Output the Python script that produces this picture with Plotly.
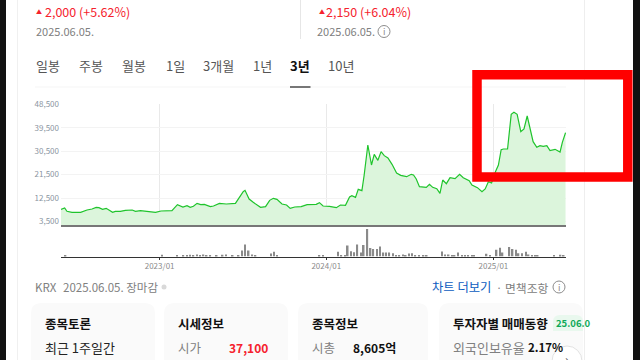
import plotly.graph_objects as go

price_dates = ["2022-05-30","2022-06-07","2022-06-12","2022-06-23","2022-07-12","2022-07-26","2022-08-06","2022-08-15","2022-08-21","2022-08-29","2022-09-06","2022-09-20","2022-09-26","2022-10-07","2022-10-18","2022-11-02","2022-11-09","2022-11-20","2022-12-04","2022-12-23","2023-01-04","2023-01-28","2023-02-09","2023-02-21","2023-03-02","2023-03-09","2023-03-16","2023-03-24","2023-04-01","2023-04-09","2023-04-22","2023-04-29","2023-05-12","2023-05-27","2023-06-16","2023-06-26","2023-07-03","2023-07-07","2023-07-16","2023-07-25","2023-08-10","2023-08-21","2023-08-30","2023-09-07","2023-09-15","2023-09-26","2023-10-06","2023-10-14","2023-10-24","2023-11-07","2023-11-20","2023-12-10","2023-12-17","2023-12-25","2024-01-08","2024-01-23","2024-02-01","2024-02-12","2024-02-21","2024-02-26","2024-03-05","2024-03-11","2024-03-19","2024-03-24","2024-04-01","2024-04-09","2024-04-15","2024-04-23","2024-04-30","2024-05-07","2024-05-15","2024-05-24","2024-06-03","2024-06-12","2024-06-25","2024-07-05","2024-07-10","2024-07-16","2024-07-23","2024-08-07","2024-08-14","2024-08-21","2024-08-30","2024-09-06","2024-09-12","2024-09-20","2024-09-28","2024-10-09","2024-10-19","2024-10-27","2024-11-09","2024-11-15","2024-11-27","2024-12-07","2024-12-14","2024-12-21","2024-12-28","2025-01-05","2025-01-12","2025-01-18","2025-01-23","2025-02-01","2025-02-09","2025-02-15","2025-02-22","2025-03-02","2025-03-09","2025-03-16","2025-03-24","2025-03-29","2025-04-06","2025-04-13","2025-04-20","2025-04-28","2025-05-05","2025-05-16","2025-05-27","2025-06-01","2025-06-08"]
price_values = [8141,8654,7372,6988,6988,7885,8270,8911,8783,8141,8526,6988,7372,7372,7757,7885,7372,7628,7372,6988,7500,7628,9936,9039,9552,8911,9295,10449,9936,10064,9167,9424,10449,10193,10449,13398,14936,15449,12115,10833,8910,9167,11603,12372,11988,10193,9808,8526,9039,9167,9936,10064,10705,9424,9295,8783,9808,9680,12885,13398,12757,15834,15321,21346,32884,25192,29294,26987,30320,28782,27884,25448,22115,21218,20705,21602,21346,19808,16859,16602,17755,16602,16089,14294,19422,18012,20320,19935,21601,20320,19166,17500,16474,14935,15960,18781,18268,22371,25191,31088,31345,31345,44677,45447,44677,38011,39037,44036,38011,34165,31986,32627,32370,32627,30703,31216,30190,33909,37627]

volume_dates = ["2022-06-09","2023-01-06","2023-02-08","2023-02-22","2023-03-02","2023-03-09","2023-03-16","2023-03-24","2023-03-31","2023-04-07","2023-04-14","2023-04-22","2023-05-06","2023-05-19","2023-05-26","2023-06-10","2023-06-23","2023-07-01","2023-07-07","2023-07-15","2023-07-23","2023-07-30","2023-09-02","2023-09-09","2023-09-15","2023-12-17","2023-12-25","2024-01-27","2024-02-03","2024-02-11","2024-02-17","2024-02-24","2024-03-02","2024-03-09","2024-03-17","2024-03-23","2024-03-31","2024-04-07","2024-04-13","2024-04-21","2024-04-28","2024-05-05","2024-05-11","2024-05-18","2024-05-26","2024-06-02","2024-06-09","2024-06-17","2024-06-23","2024-06-30","2024-07-07","2024-07-14","2024-07-22","2024-08-01","2024-08-08","2024-09-10","2024-09-17","2024-09-25","2024-10-02","2024-10-08","2024-10-16","2024-10-24","2024-10-31","2024-11-07","2024-11-15","2024-11-20","2024-12-17","2024-12-25","2025-01-08","2025-01-16","2025-01-21","2025-02-05","2025-02-12","2025-02-19","2025-02-25","2025-03-05","2025-03-13","2025-03-19","2025-03-27","2025-04-02","2025-04-08","2025-05-14","2025-05-28","2025-06-04"]
volume_values = [3,5,3,4,3,5,4,6,4,6,3,3,3,5,6,3,3,18,36,18,6,3,9,14,3,3,3,14,4,4,33,16,13,36,12,34,82,25,22,22,30,12,12,12,10,4,4,6,4,9,10,4,4,3,3,15,6,6,4,4,12,4,4,4,4,4,8,4,20,26,12,28,22,20,10,10,14,6,4,4,4,3,5,3]

y_ticks = [3500, 12500, 21500, 30500, 39500, 48500]
x_ticks = ["2023-01-01", "2024-01-01", "2025-01-01"]
x_tick_labels = ["2023/01", "2024/01", "2025/01"]

W, H = 640, 360
FONT = "Noto Sans CJK KR"
RED = "#f5222d"
GRAY = "#808080"

def px(x): return x / W
def py(y): return 1 - y / H

fig = go.Figure()
fig.add_trace(go.Scatter(x=price_dates, y=price_values, mode="lines", fill="tozeroy",
                         line=dict(color="#1fc42c", width=1.2), fillcolor="#dcf5dc",
                         hoverinfo="skip", xaxis="x", yaxis="y"))
fig.add_trace(go.Bar(x=volume_dates, y=volume_values, marker=dict(color="#8a8a8a", line_width=0),
                     width=2.9e8, hoverinfo="skip", xaxis="x2", yaxis="y2"))

date_range = ["2022-05-30", "2025-06-09"]
fig.update_layout(
    width=W, height=H, autosize=False, showlegend=False,
    margin=dict(l=0, r=0, t=0, b=0, autoexpand=False), paper_bgcolor="white", plot_bgcolor="rgba(0,0,0,0)",
    font=dict(family=FONT, color=GRAY),
    xaxis=dict(domain=[px(61), px(566)], range=date_range, type="date", anchor="y", automargin=False,
               tickvals=x_ticks, showticklabels=False, ticks="", showgrid=True,
               gridcolor="#e9e9e9", gridwidth=1, zeroline=False,
               showline=True, linecolor="#777777", linewidth=2),
    yaxis=dict(domain=[py(225), py(103.5)], range=[2115, 48844], tickvals=y_ticks, automargin=False,
               tickformat=",d", tickfont=dict(size=8, color="#8b95a1"), ticks="",
               ticklabelstandoff=1, showgrid=True, gridcolor="#f3f3f3", gridwidth=1,
               zeroline=False, showline=False),
    xaxis2=dict(domain=[px(61), px(566)], range=date_range, type="date", anchor="y2", automargin=False,
                tickvals=x_ticks, ticktext=x_tick_labels, tickfont=dict(size=8, color="#8b8b8b"),
                ticks="outside", ticklen=2, tickcolor="#333333", showgrid=False, zeroline=False,
                showline=True, linecolor="#333333", linewidth=1),
    yaxis2=dict(domain=[py(256.5), py(229)], range=[0, 82], showticklabels=False, automargin=False,
                ticks="", showgrid=False, zeroline=False, showline=False),
)

def label(x, y, text, size=12, color=GRAY, bold=False, anchor="left"):
    fig.add_annotation(xref="paper", yref="paper", x=px(x), y=py(y), text=f"<b>{text}</b>" if bold else text,
                       showarrow=False, xanchor=anchor, yanchor="middle",
                       font=dict(family=FONT, size=size, color=color), borderpad=0, borderwidth=0)

def rect(x0, y0, x1, y1, fill, layer="below"):
    fig.add_shape(type="rect", xref="paper", yref="paper", x0=px(x0), x1=px(x1), y0=py(y0), y1=py(y1),
                  fillcolor=fill, line_width=0, layer=layer)

def round_card(x0, y0, x1, y1, r, fill):
    X0, X1, Y0, Y1, RX, RY = px(x0), px(x1), py(y0), py(y1), r / W, r / H
    path = (f"M {X0} {Y1} L {X0} {Y0 - RY} Q {X0} {Y0} {X0 + RX} {Y0} L {X1 - RX} {Y0} "
            f"Q {X1} {Y0} {X1} {Y0 - RY} L {X1} {Y1} Z")
    fig.add_shape(type="path", xref="paper", yref="paper", path=path, fillcolor=fill, line_width=0, layer="below")

def info(x, y):
    fig.add_shape(type="circle", xref="paper", yref="paper", x0=px(x - 6), x1=px(x + 6), y0=py(y + 6), y1=py(y - 6),
                  line=dict(color="#8c8c8c", width=1), layer="above")
    label(x, y, "i", 9, "#8c8c8c", anchor="center")

# page chrome
rect(0, 0, 6, 360, "#111111", "above")
rect(17, 0, 18, 360, "#f0f0f0")
rect(584, 0, 585, 360, "#eeeeee")
rect(633, 0, 640, 360, "#111111", "above")
rect(300, 0, 301, 39, "#e6e6e6")
rect(35, 86.5, 566, 87.5, "#f5f5f5")
rect(290, 86, 310.5, 88, "#777777")

# header
label(36, 12, "▲", 6, RED)
label(45, 12, "2,000 (+5.62%)", 12.5, RED)
label(36, 30.5, "2025.06.05.", 11, GRAY)
label(319, 12, "▲", 6, RED)
label(326, 12, "2,150 (+6.04%)", 12.5, RED)
label(317, 30.5, "2025.06.05.", 11, GRAY)
info(384, 31.5)

# tabs
tab_labels = ["일봉", "주봉", "월봉", "1일", "3개월", "1년", "10년"]
tab_x = [36, 79, 122, 166, 203, 253, 328]
for tx, t in zip(tab_x, tab_labels):
    label(tx, 65.5, t, 13, "#555555")
label(290, 65.5, "3년", 13, "#111111", bold=True)

# footer row
label(35, 287, "KRX", 11.5, GRAY)
label(63, 287, "2025.06.05. 장마감", 11.5, GRAY)
fig.add_shape(type="circle", xref="paper", yref="paper", x0=px(161.5), x1=px(166.5), y0=py(289.5), y1=py(284.5),
              fillcolor="#d9d9d9", line_width=0)
label(431.5, 287, "차트 더보기", 12.3, "#0b5cc0")
label(496, 287, "·", 11, GRAY)
label(504.5, 287, "면책조항", 11.8, GRAY)
info(559, 287)

# cards
for x0, x1 in [(31, 155), (164, 288), (298, 428), (439, 583)]:
    round_card(x0, 303, x1, 360, 11, "#fafafa")
label(45, 323, "종목토론", 12.5, "#111111", bold=True)
label(45, 347, "최근 1주일간", 13, "#222222")
label(45, 366, "350개의", 13, "#222222")
label(178, 323, "시세정보", 12.5, "#111111", bold=True)
label(178, 347, "시가", 12.5, GRAY)
label(229, 347, "37,100", 12, RED, bold=True)
label(312, 323, "종목정보", 12.5, "#111111", bold=True)
label(312, 347, "시총", 12.5, GRAY)
label(353, 347, "8,605억", 12, "#111111", bold=True)
label(453, 323, "투자자별 매매동향", 12.5, "#111111", bold=True)
round_card(553, 315, 583, 331, 7, "#e9f8ee")
label(556, 323, "25.06.0", 9.5, "#0fa958", bold=True)
label(453, 347, "외국인보유율", 13, GRAY)
label(527.5, 347, "2.17%", 11.5, "#111111", bold=True)
fig.add_shape(type="circle", xref="paper", yref="paper", x0=px(552), x1=px(582), y0=py(376), y1=py(346),
              fillcolor="white", line=dict(color="#e2e2e2", width=1), layer="above")
label(567, 358, "›", 12, "#555555", anchor="center")

# red highlight box
fig.add_shape(type="rect", xref="paper", yref="paper", x0=px(477), x1=px(627.8), y0=py(177), y1=py(74.7),
              line=dict(color="#ff0000", width=9.5), layer="above")

fig.write_html("out.html", config={"displayModeBar": False},
               post_script="document.documentElement.style.margin='0';document.body.style.margin='0';"
                           "document.body.style.overflow='hidden';"
                           "var d=document.querySelector('.plotly-graph-div');"
                           "d.style.position='fixed';d.style.top='0px';d.style.left='0px';")
